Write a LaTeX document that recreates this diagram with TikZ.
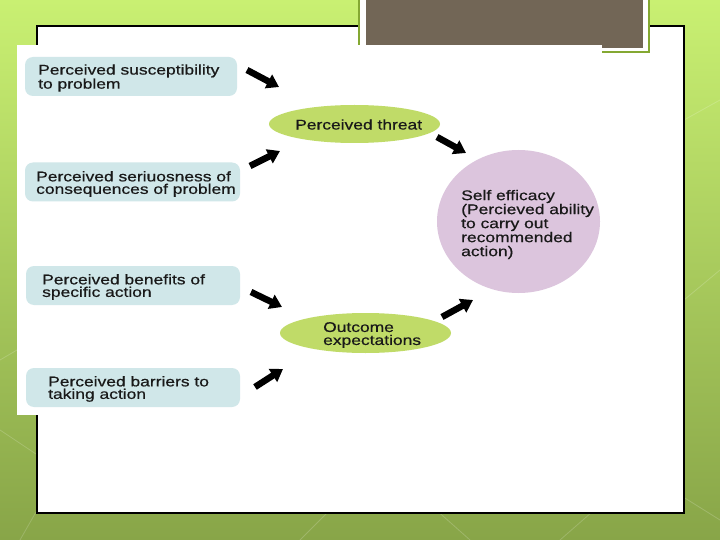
\documentclass[tikz,border=0pt]{standalone}
\usepackage{fontspec}
\setmainfont{Liberation Sans}[FakeStretch=1.245,FakeBold=0.6]
\usetikzlibrary{arrows.meta,shapes.geometric}
\definecolor{bgtop}{HTML}{C9F072}
\definecolor{bgbot}{HTML}{88A548}
\definecolor{titlebg}{HTML}{726656}
\definecolor{titleline}{HTML}{84A832}
\definecolor{boxblue}{HTML}{D0E7E9}
\definecolor{ellgreen}{HTML}{C0DB68}
\definecolor{circpink}{HTML}{DCC5DD}
\begin{document}
\begin{tikzpicture}[x=1pt,y=-1pt,
  bluebox/.style={rectangle, rounded corners=8pt, fill=boxblue, minimum width=#1, minimum height=39pt, inner sep=0pt},
  greenell/.style={ellipse, fill=ellgreen, minimum width=171pt, minimum height=#1, inner sep=0pt},
  pinkell/.style={ellipse, fill=circpink, minimum width=163pt, minimum height=143pt, inner sep=0pt},
  lbl/.style={inner sep=0pt, align=left, anchor=west, text=black!90, font=\fontsize{14pt}{#1}\selectfont},
  lbl/.default=12.5pt,
  blockarrow/.style={line width=6.5pt, black, -{Triangle[width=15pt,length=12pt]}}]
\useasboundingbox (0,0) rectangle (720,540);
% slide background
\shade[top color=bgtop, bottom color=bgbot] (0,0) rectangle (720,540);
\begin{scope}[white, opacity=0.18, line width=0.8pt]
  \draw (0,430) -- (60,470) -- (20,540);
  \draw (300,540) -- (380,460) -- (470,540);
  \draw (560,540) -- (640,470) -- (720,520);
  \draw (684,300) -- (720,270);
  \draw (684,120) -- (720,100);
  \draw (0,360) -- (17,350);
\end{scope}
% content frame
\draw[black, line width=1.5pt, fill=white] (37,26) rectangle (684,513);
% title placeholder
\fill[white] (359,0) rectangle (649,52);
\draw[titleline, line width=2pt] (359,0) -- (359,52) -- (649,52) -- (649,0);
\fill[titlebg] (366,0) rectangle (643,48);
% pasted picture
\fill[white] (17,45) rectangle (602,415);
% boxes
\node[bluebox=212pt] (b1) at (131,76.5) {};
\node[bluebox=215pt] (b2) at (132.5,182) {};
\node[bluebox=214pt] (b3) at (133,285.5) {};
\node[bluebox=214pt] (b4) at (133,387.5) {};
\node[lbl] (t1) at (38,78) {Perceived susceptibility\\to problem};
\node[lbl] (t2) at (36,184) {Perceived seriuosness of\\consequences of problem};
\node[lbl] (t3) at (42,287) {Perceived benefits of\\specific action};
\node[lbl] (t4) at (48,389) {Perceived barriers to\\taking action};
% ellipses
\node[greenell=38pt] (thr) at (354.5,124) {};
\node[greenell=40pt] (out) at (365.5,333) {};
\node[pinkell] (self) at (518.5,221.5) {};
\node[lbl] (thrt) at (295,124.5) {Perceived threat};
\node[lbl=13pt] (outt) at (323,335) {Outcome\\expectations};
\node[lbl=14pt] (selft) at (461,224.5) {Self efficacy\\(Percieved ability\\to carry out\\recommended\\action)};
% arrows
\coordinate (a1s) at (247,70);  \coordinate (a1e) at (279,87);
\coordinate (a2s) at (250,166); \coordinate (a2e) at (280,151);
\coordinate (a3s) at (437,137); \coordinate (a3e) at (466,153);
\coordinate (a4s) at (251,292); \coordinate (a4e) at (282,307);
\coordinate (a5s) at (255,387); \coordinate (a5e) at (283,369);
\coordinate (a6s) at (442,317); \coordinate (a6e) at (473,300);
\draw[blockarrow] (a1s) -- (a1e);
\draw[blockarrow] (a2s) -- (a2e);
\draw[blockarrow] (a3s) -- (a3e);
\draw[blockarrow] (a4s) -- (a4e);
\draw[blockarrow] (a5s) -- (a5e);
\draw[blockarrow] (a6s) -- (a6e);
\end{tikzpicture}
\end{document}
